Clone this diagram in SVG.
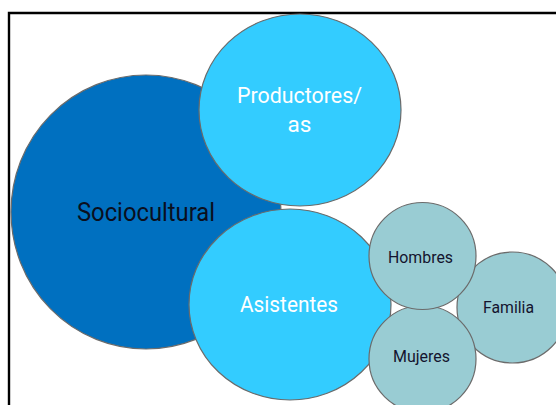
<svg xmlns="http://www.w3.org/2000/svg" width="556" height="405" viewBox="0 0 556 405">
<style>
.n{stroke:#6b6b6b;stroke-width:1.2}
.big{fill:#0070C0}
.mid{fill:#33CCFF}
.sm{fill:#99CCD3}
text{font-family:Roboto,"Liberation Sans",sans-serif;text-anchor:middle}
.w{fill:#ffffff;font-size:22.5px}
.d{fill:#14142e;font-size:17px}
</style>
<rect width="556" height="405" fill="#ffffff"/>
<path d="M9,406 V13 H557" fill="none" stroke="#000" stroke-width="2.4"/>
<g id="connectors"></g>
<g id="sociocultural">
<ellipse class="n big" cx="146" cy="212" rx="135" ry="137"/>
<text x="146" y="221" style="font-size:25.5px;fill:#0a0f1e" textLength="138" lengthAdjust="spacingAndGlyphs">Sociocultural</text>
</g>
<g id="productores">
<ellipse class="n mid" cx="300" cy="110" rx="101" ry="96"/>
<text class="w" x="299.5" y="103" textLength="125" lengthAdjust="spacingAndGlyphs">Productores/</text>
<text class="w" x="299.5" y="132">as</text>
</g>
<g id="asistentes">
<ellipse class="n mid" cx="290" cy="304.5" rx="101" ry="95.5"/>
<text class="w" x="289" y="312" textLength="98" lengthAdjust="spacingAndGlyphs">Asistentes</text>
</g>
<g id="familia">
<circle class="n sm" cx="512.5" cy="307.5" r="55.5"/>
<text class="d" x="508.5" y="313" textLength="51" lengthAdjust="spacingAndGlyphs">Familia</text>
</g>
<g id="mujeres">
<circle class="n sm" cx="422.5" cy="359" r="53.5"/>
<text class="d" x="421.5" y="362" textLength="57" lengthAdjust="spacingAndGlyphs">Mujeres</text>
</g>
<g id="hombres">
<circle class="n sm" cx="422.5" cy="256" r="53.5"/>
<text class="d" x="420.5" y="263" textLength="65" lengthAdjust="spacingAndGlyphs">Hombres</text>
</g>
</svg>
